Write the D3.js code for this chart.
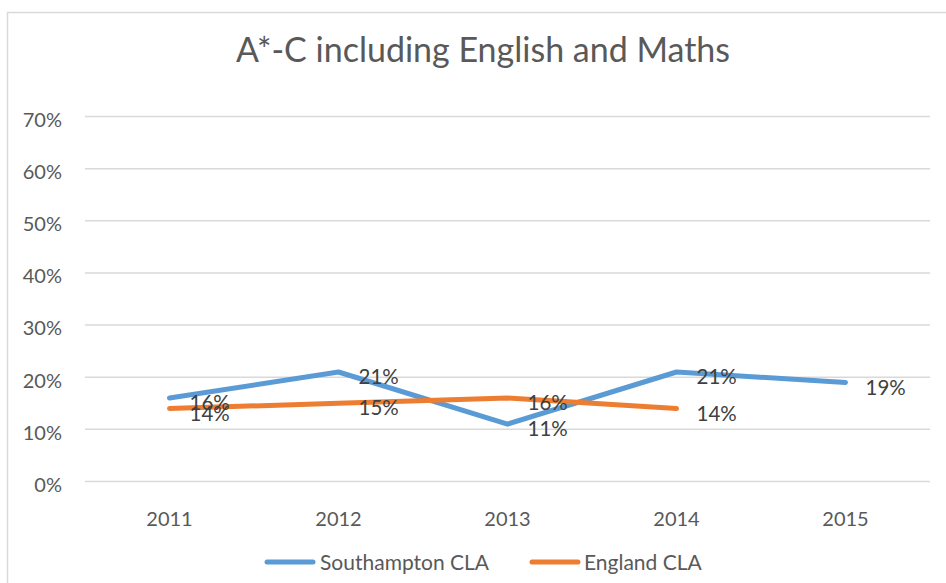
<!DOCTYPE html>
<html>
<head>
<meta charset="utf-8">
<script src="https://cdn.jsdelivr.net/npm/d3@7"></script>
<style>
  body { margin: 0; background: #fff; }
  text { font-family: Lato, "Open Sans", sans-serif; }
</style>
</head>
<body>
<svg id="chart" width="946" height="583"></svg>
<script>
var years = ['2011', '2012', '2013', '2014', '2015'];
var southampton = [0.16, 0.21, 0.11, 0.21, 0.19];
var england = [0.14, 0.15, 0.16, 0.14, null];
var seriesNames = ['Southampton CLA', 'England CLA'];
var seriesColors = ['#5b9bd5', '#ed7d31'];
var yTicks = [0, 0.1, 0.2, 0.3, 0.4, 0.5, 0.6, 0.7];

var svg = d3.select('#chart');
var W = 946, H = 583;
var plotLeft = 85, plotRight = 930, plotTop = 116.5, plotBottom = 481.5;

// chart area border
svg.append('rect')
  .attr('x', 7.5).attr('y', 12.5)
  .attr('width', W).attr('height', H)
  .attr('fill', '#fff')
  .attr('stroke', '#d9d9d9')
  .attr('stroke-width', 1.5);

var x = d3.scaleBand().domain(years).range([plotLeft, plotRight]);
var y = d3.scaleLinear().domain([0, 0.7]).range([plotBottom, plotTop]);
var pct = d3.format('.0%');

// title
svg.append('text')
  .attr('x', 483).attr('y', 62)
  .attr('text-anchor', 'middle')
  .attr('fill', '#595959')
  .style('font-size', '34px')
  .text('A*-C including English and Maths');

// gridlines
svg.append('g').selectAll('line')
  .data(yTicks).enter().append('line')
  .attr('x1', plotLeft).attr('x2', plotRight)
  .attr('y1', function(d) { return y(d); })
  .attr('y2', function(d) { return y(d); })
  .attr('stroke', '#d9d9d9')
  .attr('stroke-width', 1.5);

// y axis labels (sit a little below their gridline, as in Excel)
var yAxis = d3.axisLeft(y).tickValues(yTicks).tickFormat(pct).tickSize(0).tickPadding(0);
var gy = svg.append('g').attr('transform', 'translate(62,3.5)').call(yAxis);
gy.select('.domain').remove();
gy.selectAll('text')
  .attr('fill', '#595959')
  .style('font-size', '20px')
  .style('font-family', 'Lato, "Open Sans", sans-serif');

// x axis labels
var xAxis = d3.axisBottom(x).tickSize(0).tickPadding(0);
var gx = svg.append('g').attr('transform', 'translate(0,512)').call(xAxis);
gx.select('.domain').remove();
gx.selectAll('text')
  .attr('fill', '#595959')
  .style('font-size', '20px')
  .style('font-family', 'Lato, "Open Sans", sans-serif');

var series = [southampton, england];

var line = d3.line()
  .defined(function(d) { return d != null; })
  .x(function(d, i) { return x(years[i]) + x.bandwidth() / 2; })
  .y(function(d) { return y(d); });

series.forEach(function(s, k) {
  svg.append('path')
    .datum(s)
    .attr('d', line)
    .attr('fill', 'none')
    .attr('stroke', seriesColors[k])
    .attr('stroke-width', 5)
    .attr('stroke-linecap', 'round')
    .attr('stroke-linejoin', 'round');
});

// data labels, placed to the right of each point
series.forEach(function(s, k) {
  svg.append('g').selectAll('text')
    .data(s.map(function(v, i) { return {v: v, i: i}; }).filter(function(d) { return d.v != null; }))
    .enter().append('text')
    .attr('x', function(d) { return x(years[d.i]) + x.bandwidth() / 2 + 20; })
    .attr('y', function(d) { return y(d.v) + 4; })
    .attr('dy', '0.4em')
    .attr('fill', '#404040')
    .style('font-size', '20.5px')
    .text(function(d) { return pct(d.v); });
});

// legend
var legend = svg.append('g').attr('transform', 'translate(0,562)');
var legendPos = [[267, 320], [532, 584]];
seriesNames.forEach(function(name, k) {
  legend.append('line')
    .attr('x1', legendPos[k][0]).attr('x2', legendPos[k][0] + 46)
    .attr('y1', 0).attr('y2', 0)
    .attr('stroke', seriesColors[k])
    .attr('stroke-width', 5)
    .attr('stroke-linecap', 'round');
  legend.append('text')
    .attr('x', legendPos[k][1]).attr('y', 0)
    .attr('dy', '0.36em')
    .attr('fill', '#595959')
    .style('font-size', '21px')
    .text(name);
});
</script>
</body>
</html>
